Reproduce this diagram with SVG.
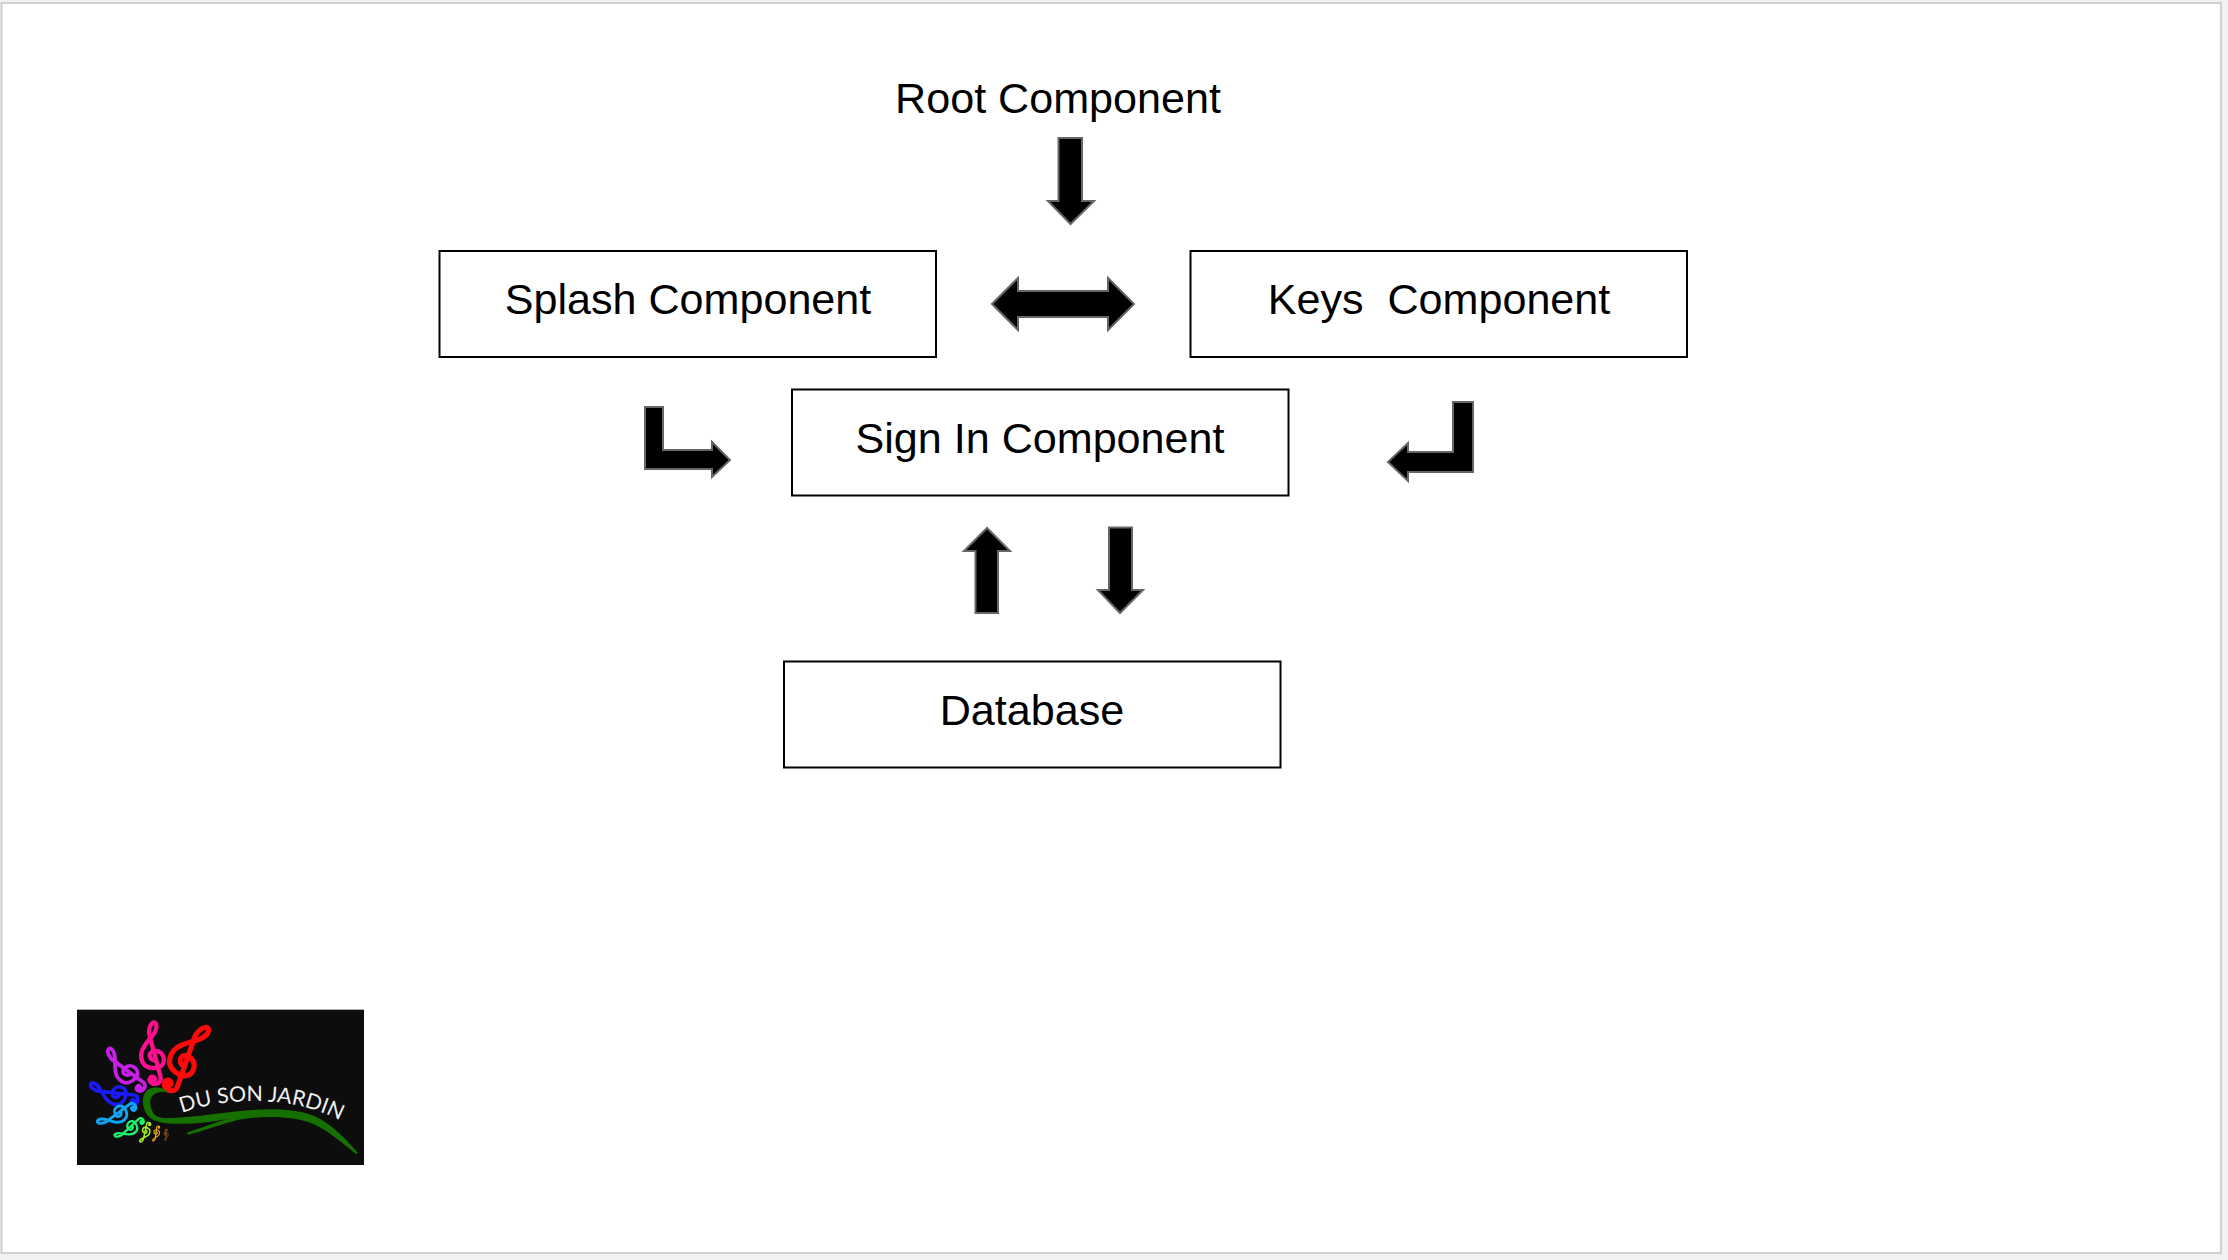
<svg xmlns="http://www.w3.org/2000/svg" width="2228" height="1260" viewBox="0 0 2228 1260">
<style>
.box{fill:#fff;stroke:#000;stroke-width:2}
.lbl{font-family:"Liberation Sans",Arial,sans-serif;font-size:43.1px;fill:#000;text-anchor:middle}
.arrow{fill:#000;stroke:#666;stroke-width:2;stroke-linejoin:miter}
.clefline{fill:none;stroke-width:14;stroke-linecap:round;stroke-linejoin:round}
</style>
<defs>
<g id="clef">
<path class="clefline" stroke="currentColor" d="M5,20 C-15,20 -20,-10 5,-10 C40,-10 45,45 5,45 C-45,45 -50,0 -25,-30 C-5,-55 25,-70 22,-95 C20,-110 0,-105 -5,-70 L15,75 C20,100 -20,105 -22,80"/>
<circle cx="-12" cy="80" r="15" fill="currentColor"/>
</g>
</defs>
<rect width="2228" height="1260" fill="#f1f1f1"/>
<rect id="page" x="1.5" y="3" width="2219.5" height="1250" fill="#fff" stroke="#d0d0d0" stroke-width="2"/>

<g id="root-component"><text class="lbl" x="1058" y="113">Root Component</text></g>
<g id="splash-component"><rect class="box" x="439.500" y="251" width="496.500" height="106"/><text class="lbl" x="688" y="314">Splash Component</text></g>
<g id="keys-component"><rect class="box" x="1190.500" y="251" width="496.500" height="106"/><text class="lbl" x="1439" y="314" xml:space="preserve">Keys  Component</text></g>
<g id="sign-in-component"><rect class="box" x="792" y="389.500" width="496.500" height="106"/><text class="lbl" x="1040" y="453">Sign In Component</text></g>
<g id="database"><rect class="box" x="784" y="661.500" width="496.500" height="106"/><text class="lbl" x="1032" y="725">Database</text></g>

<g id="connectors">
<path class="arrow" d="M1058.500,138 H1082 V201 H1094 L1070.500,224 L1048,201 H1058.500 Z"/>
<path class="arrow" d="M992,304 L1018,278 V291 H1108 V278 L1134,304 L1108,330 V317 H1018 V330 Z"/>
<path class="arrow" d="M645,407 H663 V450 H712 V442 L730,460 L712,477 V469 H645 Z"/>
<path class="arrow" d="M1473,402 H1453 V452 H1408 V443 L1388,462 L1408,481 V472 H1473 Z"/>
<path class="arrow" d="M987,528 L1010,551 H998 V613 H975.500 V551 H964 Z"/>
<path class="arrow" d="M1109,527.500 H1132 V590 H1143 L1120,613 L1098,590 H1109 Z"/>
</g>

<g id="logo" transform="translate(60,1000) scale(0.33333)">
<rect x="51" y="29" width="861" height="466" fill="#0d0d0d"/>
<use href="#clef" color="#ff0a0a" transform="translate(382,165) rotate(27) scale(1.1) translate(0,12)"/>
<use href="#clef" color="#ff0f8f" transform="translate(278,152) rotate(-7) scale(.92) translate(0,12)"/>
<use href="#clef" color="#c71fe8" transform="translate(190,206) rotate(-46) scale(.8) translate(0,12)"/>
<use href="#clef" color="#1a1aff" transform="translate(155,280) rotate(-76) scale(.75) translate(0,12)"/>
<use href="#clef" color="#0fa5f5" transform="translate(166,347) rotate(-119) scale(.62) translate(0,12)"/>
<use href="#clef" color="#1cf56e" transform="translate(205,388) rotate(-125) scale(.49) translate(0,12)"/>
<use href="#clef" color="#a0f020" transform="translate(255,400) rotate(-160) scale(.32) translate(0,12)"/>
<use href="#clef" color="#e8a818" transform="translate(288,403) rotate(-165) scale(.24) translate(0,12)"/>
<use href="#clef" color="#a85a28" transform="translate(318,406) rotate(180) scale(.17) translate(0,12)"/>
<path fill="#157000" d="M326,280 C315,262 285,258 265,268 C245,280 243,320 262,345 C275,362 300,370 340,371 C400,373 450,367 505,356 C460,368 420,385 380,398 L385,404 C430,392 480,374 525,362 C590,348 690,343 760,372 C805,392 850,432 888,462 L893,458 C855,415 815,372 765,349 C700,323 620,324 520,335 C450,344 390,351 330,354 C300,355 285,350 278,335 C268,315 268,295 280,285 C295,275 310,272 326,280 Z"/>
<path id="logo-arc" fill="none" d="M362,340 C470,298 700,272 865,376"/>
<text font-family="Lato,'Open Sans',sans-serif" font-size="64" fill="#f0f0f0"><textPath href="#logo-arc" startOffset="4">DU SON JARDIN</textPath></text>
</g>
</svg>
